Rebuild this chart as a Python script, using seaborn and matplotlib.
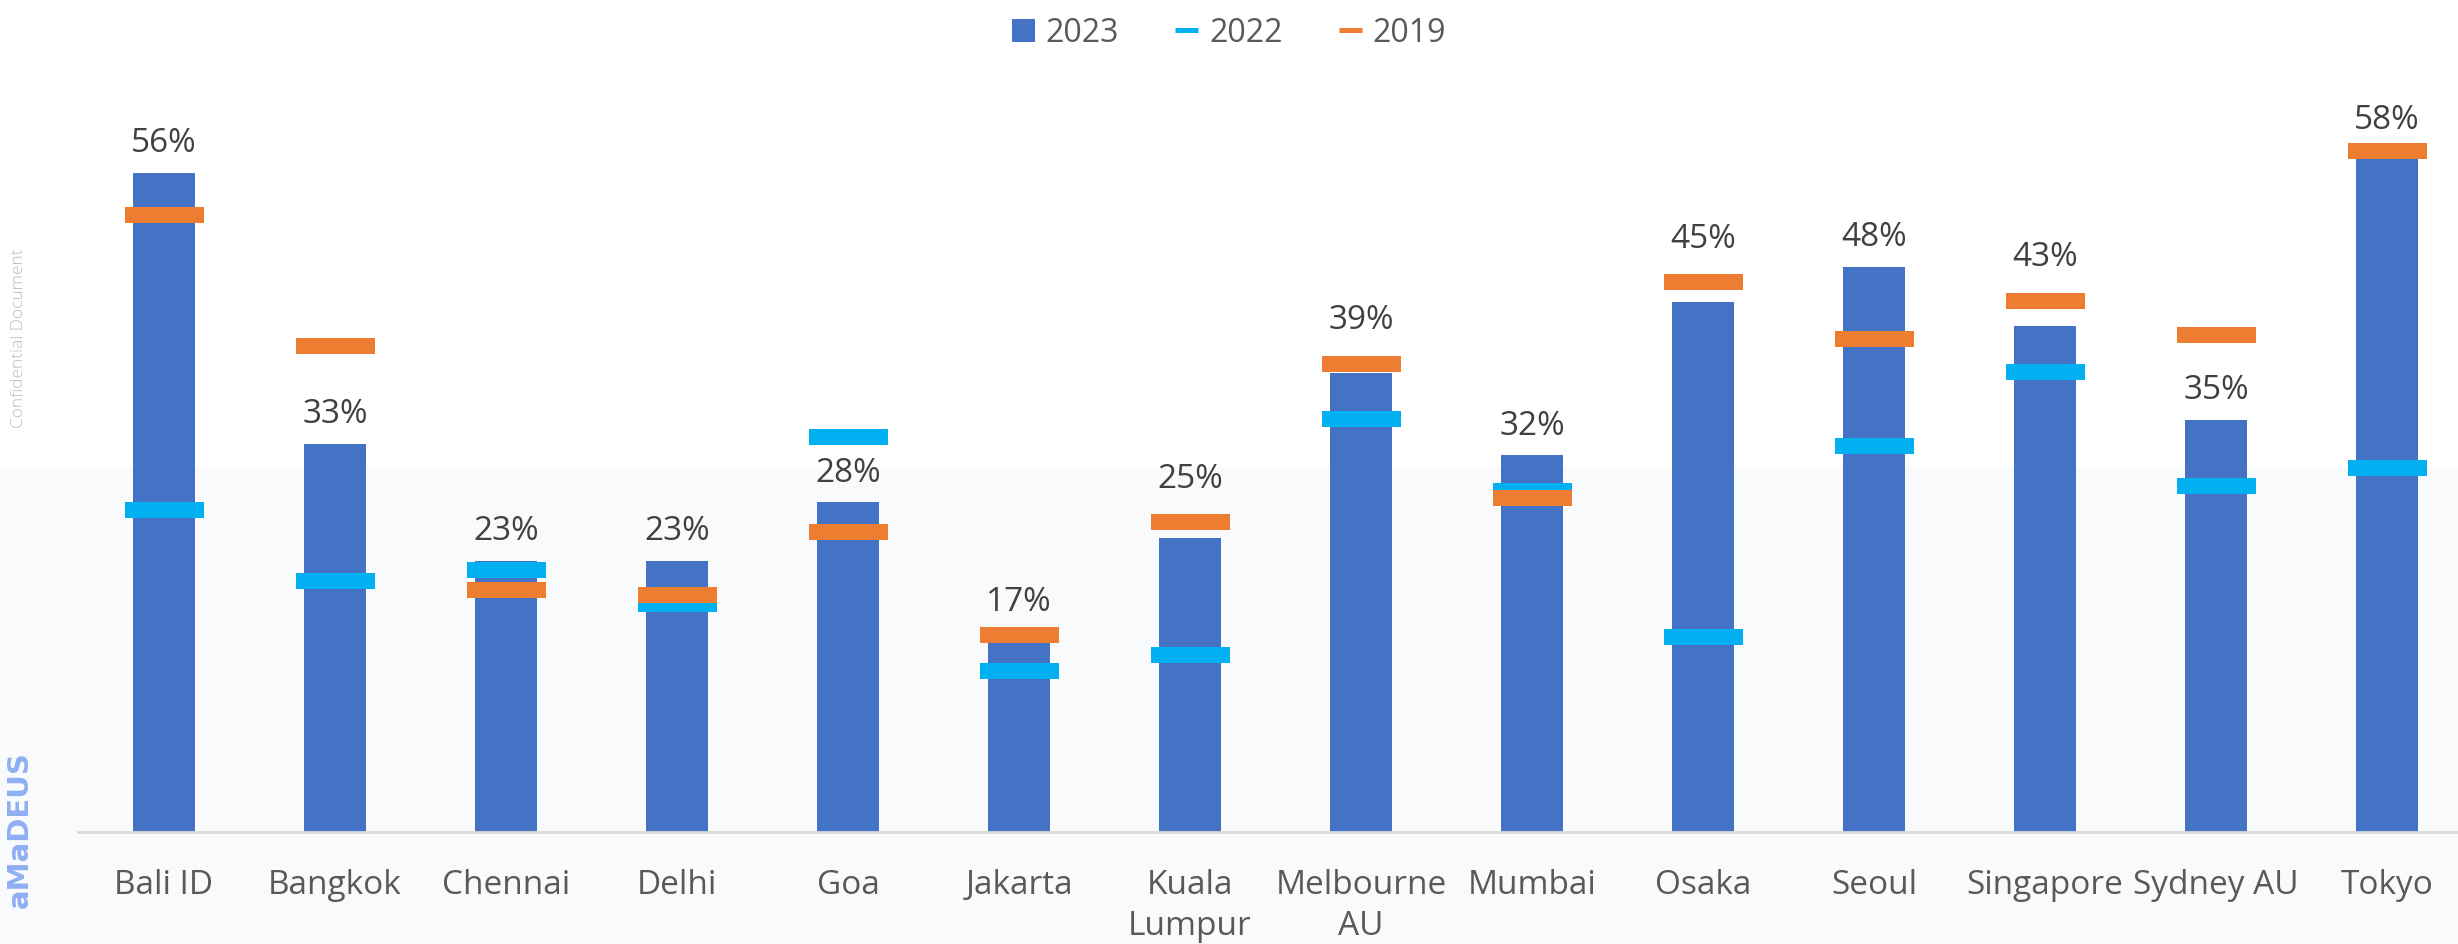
import numpy as np
import pandas as pd
import matplotlib
matplotlib.use("Agg")
import matplotlib.pyplot as plt
from matplotlib.path import Path
from matplotlib.patches import Patch, Rectangle
from matplotlib.lines import Line2D
import seaborn as sns

# --- data -----------------------------------------------------------------
cities = ["Bali ID", "Bangkok", "Chennai", "Delhi", "Goa", "Jakarta",
          "Kuala\nLumpur", "Melbourne\nAU", "Mumbai", "Osaka", "Seoul",
          "Singapore", "Sydney AU", "Tokyo"]
share_2023 = [56, 33, 23, 23, 28, 17, 25, 39, 32, 45, 48, 43, 35, 58]
share_2022 = [27.4, 21.3, 22.3, 19.4, 33.6, 13.7, 15.0, 35.1, 29.0, 16.6,
              32.8, 39.1, 29.4, 30.9]
share_2019 = [52.4, 41.3, 20.6, 20.1, 25.5, 16.7, 26.3, 39.8, 28.4, 46.7,
              41.9, 45.1, 42.2, 57.9]
series_names = ["2023", "2022", "2019"]

# --- style ----------------------------------------------------------------
C_BAR = "#4472C4"
C_2022 = "#00B0F0"
C_2019 = "#ED7D31"
C_LABEL = "#404040"
C_TICK = "#595959"

sns.set_theme(style="white")
plt.rcParams["font.family"] = ["Open Sans", "DejaVu Sans"]

W, H, DPI = 2458, 944, 100
fig = plt.figure(figsize=(W / DPI, H / DPI), dpi=DPI, facecolor="white")

# pale lower band of the slide background
fig.patches.append(Rectangle((0, 0), 1, 0.505, transform=fig.transFigure,
                             facecolor="#f9fafb", edgecolor="none", zorder=-5))

ax = fig.add_axes([78.5 / W, 112 / H, 14 * 171 / W, 706.2 / H])
ax.set_facecolor("none")

df = pd.DataFrame({"city": cities, "v2023": share_2023,
                   "v2022": share_2022, "v2019": share_2019})
df["pos"] = np.arange(len(df))

sns.barplot(data=df, x="city", y="v2023", color=C_BAR, width=0.36,
            saturation=1, linewidth=0, ax=ax, zorder=2)

# flat rectangular marker for the comparison years
rect = Path([(-1, -0.215), (1, -0.215), (1, 0.215), (-1, 0.215), (-1, -0.215)],
            [Path.MOVETO, Path.LINETO, Path.LINETO, Path.LINETO, Path.CLOSEPOLY])
msize = (79 * 72 / DPI) ** 2
sns.scatterplot(data=df, x="pos", y="v2022", marker=rect, s=msize,
                color=C_2022, linewidth=0, ax=ax, zorder=3, legend=False)
sns.scatterplot(data=df, x="pos", y="v2019", marker=rect, s=msize,
                color=C_2019, linewidth=0, ax=ax, zorder=4, legend=False)

# value labels: sit above the bar, or above the 2019 marker when it caps the bar
for i, row in df.iterrows():
    if 0 < row.v2019 - row.v2023 < 3:
        y, off = row.v2019, 25
    else:
        y, off = row.v2023, 15
    ax.annotate(f"{row.v2023:.0f}%", (row.pos, y), xytext=(0, off),
                textcoords="offset points", ha="center", va="baseline",
                fontsize=24, color=C_LABEL)

ax.set_xlim(-0.5, 13.5)
ax.set_ylim(0, 60)
ax.set_xlabel("")
ax.set_ylabel("")
ax.set_yticks([])
ax.set_xticks(np.arange(len(cities)))
ax.set_xticklabels(cities, fontsize=24, color=C_TICK, linespacing=1.3)
ax.tick_params(axis="x", length=0, pad=27)
for s in ["left", "right", "top"]:
    ax.spines[s].set_visible(False)
ax.spines["bottom"].set_color("#d9d9d9")
ax.spines["bottom"].set_linewidth(2)
ax.grid(False)

handles = [Patch(facecolor=C_BAR, edgecolor="none"),
           Line2D([], [], color=C_2022, lw=3.6, solid_capstyle="butt"),
           Line2D([], [], color=C_2019, lw=3.6, solid_capstyle="butt")]
fig.legend(handles, series_names, loc="center", bbox_to_anchor=(0.5, 0.965),
           ncol=3, frameon=False, fontsize=23, labelcolor=C_TICK,
           handlelength=0.72, handleheight=0.7, handletextpad=0.35,
           columnspacing=1.75)

# side watermarks
fig.text(19 / W, 1 - 338 / H, "Confidential Document", rotation=90,
         ha="center", va="center", fontsize=12.5, color="#bdbdbd",
         fontweight="light")
fig.text(20 / W, 1 - 830 / H, "aMaDEUS", rotation=90, ha="center",
         va="center", fontsize=21, color="#8eaff2", fontweight="bold",
         family=["DejaVu Sans"])

fig.savefig("out.png", dpi=DPI, facecolor="white")
